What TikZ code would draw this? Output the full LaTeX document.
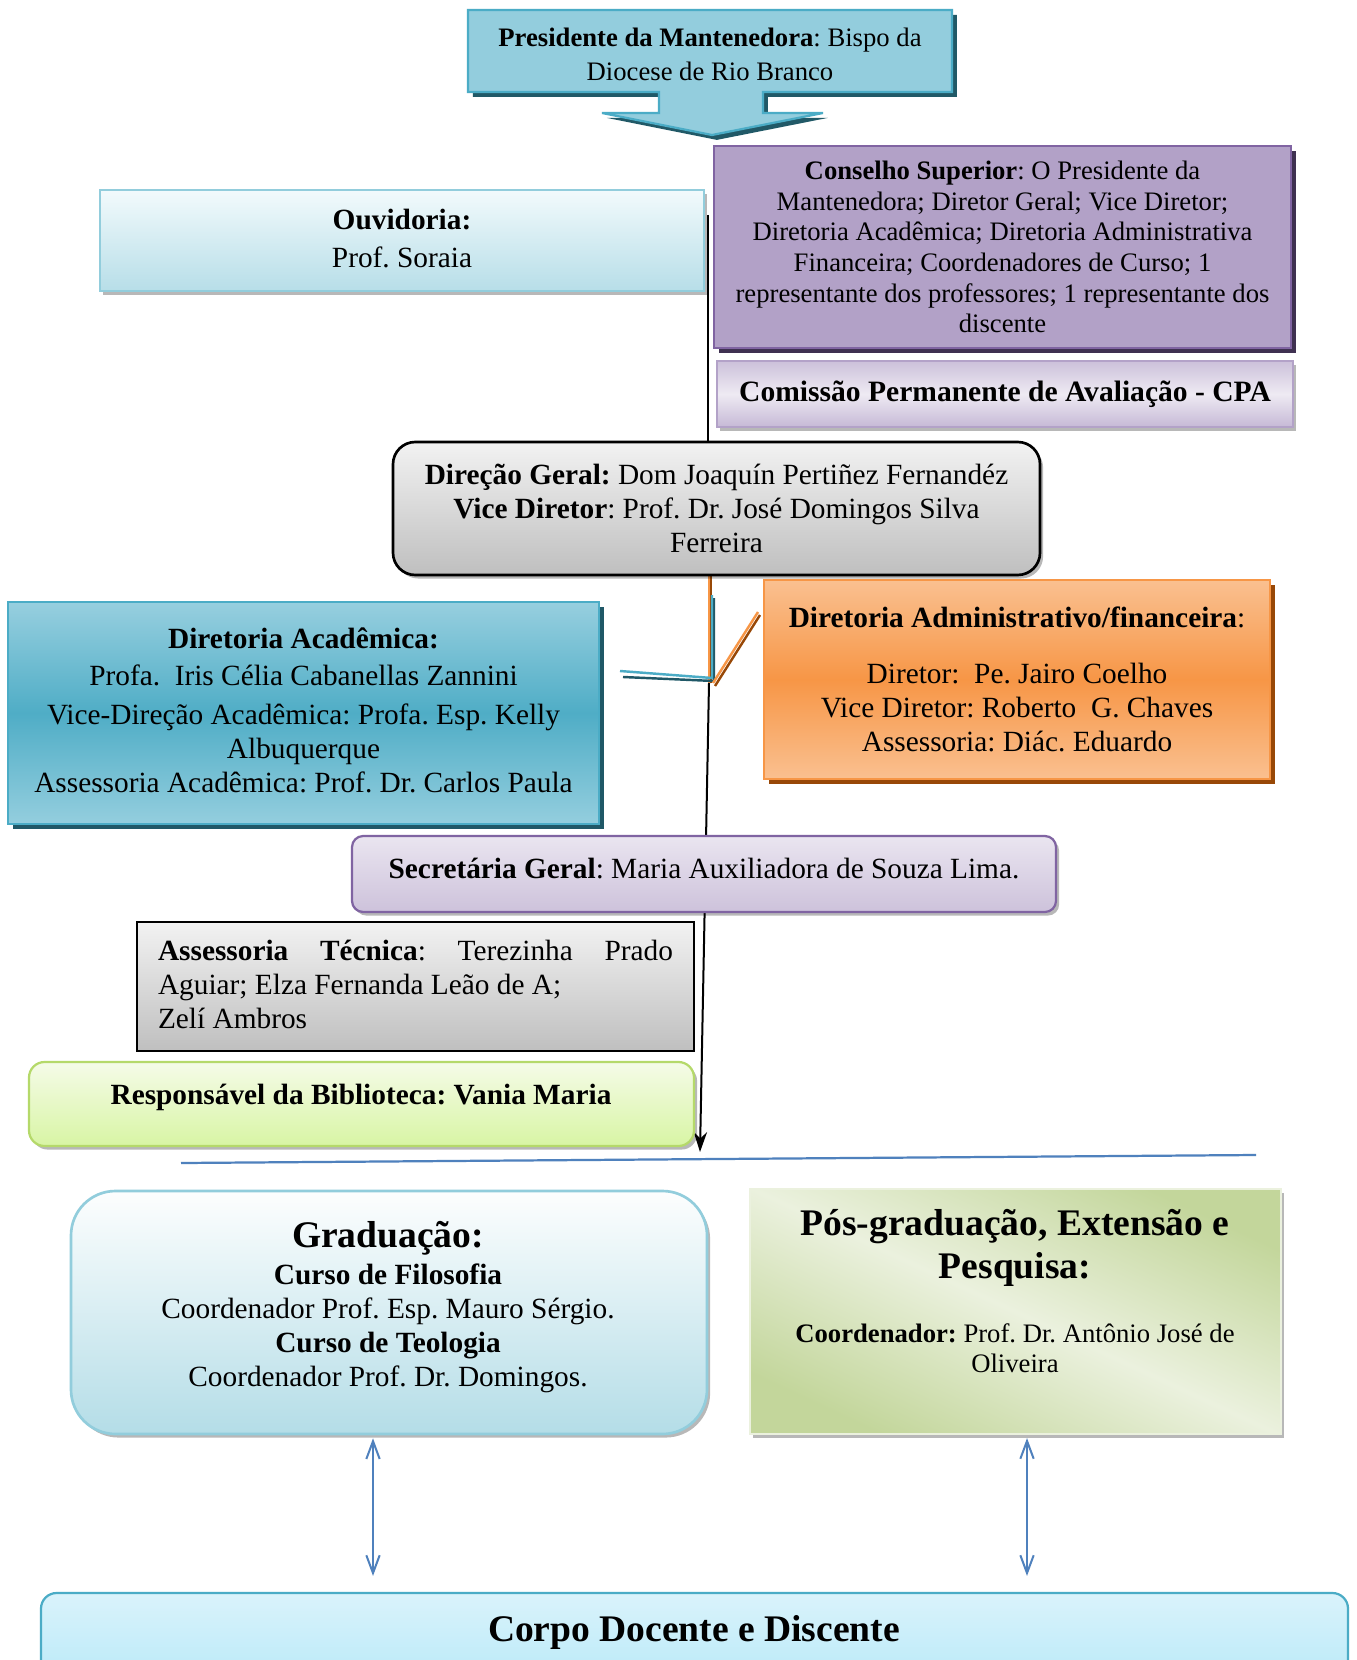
\documentclass[tikz,border=0pt]{standalone}
\usepackage{fontspec}
\setmainfont{Liberation Serif}
\usetikzlibrary{shadows,arrows.meta,calc}
\pgfdeclarelayer{bg}
\pgfsetlayers{bg,main}
\definecolor{presF}{HTML}{93CDDD}
\definecolor{presB}{HTML}{4BACC6}
\definecolor{presS}{HTML}{215967}
\definecolor{ouvT}{HTML}{F2FAFC}
\definecolor{ouvB}{HTML}{B7DEE8}
\definecolor{ouvD}{HTML}{92CDDC}
\definecolor{consF}{HTML}{B2A1C7}
\definecolor{consB}{HTML}{8064A2}
\definecolor{consS}{HTML}{3F3151}
\definecolor{cpaT}{HTML}{CCC1DA}
\definecolor{cpaM}{HTML}{EEEAF3}
\definecolor{cpaB}{HTML}{C6B9D6}
\definecolor{cpaD}{HTML}{B3A2C8}
\definecolor{dirT}{HTML}{F2F2F2}
\definecolor{dirB}{HTML}{BFBFBF}
\definecolor{acadT}{HTML}{97CFDF}
\definecolor{acadM}{HTML}{4FADC6}
\definecolor{acadB}{HTML}{94CEDE}
\definecolor{acadS}{HTML}{205867}
\definecolor{admT}{HTML}{FAC090}
\definecolor{admM}{HTML}{F79646}
\definecolor{admB}{HTML}{FAC090}
\definecolor{admS}{HTML}{984807}
\definecolor{secT}{HTML}{EAE5F0}
\definecolor{secB}{HTML}{CDC2DB}
\definecolor{bibT}{HTML}{F5FBE8}
\definecolor{bibB}{HTML}{D8F5A4}
\definecolor{bibD}{HTML}{B5D96A}
\definecolor{gradT}{HTML}{FDFEFE}
\definecolor{gradB}{HTML}{B4DDE7}
\definecolor{posL}{HTML}{C3D69B}
\definecolor{posM}{HTML}{EBF1DE}
\definecolor{corT}{HTML}{DAF3FB}
\definecolor{corB}{HTML}{B3E8F8}
\definecolor{lblue}{HTML}{4F81BD}
\tikzset{
  base/.style={font=\fontsize{13.2}{15.3}\selectfont, align=center, inner sep=0pt},
  wh/.style 2 args={minimum width=#1*0.45pt, minimum height=#2*0.45pt},
  hardshadow/.style={drop shadow={shadow xshift=2.2pt, shadow yshift=-2.2pt, fill=#1, opacity=1}},
  softshadow/.style={drop shadow={shadow xshift=1.4pt, shadow yshift=-1.6pt, fill=black, opacity=0.28}},
}
\begin{document}
\frenchspacing
\begin{tikzpicture}[x=0.45pt,y=-0.45pt]
\useasboundingbox (0,0) rectangle (1357,1660);
\clip (0,0) rectangle (1357,1660);
\begin{pgfonlayer}{bg}
\fill[white] (0,0) rectangle (1357,1660);
\end{pgfonlayer}

\coordinate (top) at (708,215);
\coordinate (j) at (709,683);
\coordinate (aend) at (700,1152);
\coordinate (blueA) at (620,671);
\coordinate (orgA) at (758,612);

% Presidente
\path[draw=presB, fill=presF, line width=1pt, hardshadow=presS]
  (468,10) -- (952,10) -- (952,92) -- (763,92) -- (763,113) -- (823,113)
  -- (712,135) -- (602,113) -- (659,113) -- (659,92) -- (468,92) -- cycle;
\node[base, font=\fontsize{12}{15.3}\selectfont] (pres) at (710,54)
  {\textbf{Presidente da Mantenedora}: Bispo da\\Diocese de Rio Branco};

% Ouvidoria
\node[wh={604}{101}, draw=ouvD, line width=1pt, top color=ouvT, bottom color=ouvB, softshadow] (ouv) at (402,240.5) {};
\node[base] (ouvt) at (402,239)
  {\textbf{Ouvidoria:}\\[1.8pt]Prof. Soraia};

% Conselho
\node[base, wh={577}{202}, draw=consB, line width=1.1pt, fill=consF, hardshadow=consS,
      font=\fontsize{12}{13.8}\selectfont] (cons) at (1002.5,247)
  {\textbf{Conselho Superior}: O Presidente da\\Mantenedora; Diretor Geral; Vice Diretor;\\Diretoria Acadêmica; Diretoria Administrativa\\Financeira; Coordenadores de Curso; 1\\representante dos professores; 1 representante dos\\discente};

% CPA
\node[base, wh={576}{66}, draw=cpaD, line width=0.8pt, top color=cpaT, bottom color=cpaB, middle color=cpaM, softshadow,
      font=\fontsize{13.3}{15.3}\selectfont\bfseries] (cpa) at (1005,394)
  {Comissão Permanente de Avaliação - CPA};

% Direção Geral
\node[base, wh={647}{133}, draw=black, line width=1.2pt, rounded corners=10pt, top color=dirT, bottom color=dirB, softshadow] (dir) at (716.5,508.5)
  {\textbf{Direção Geral:} Dom Joaquín Pertiñez Fernandéz\\\textbf{Vice Diretor}: Prof. Dr. José Domingos Silva\\Ferreira};

% Diretoria Acadêmica
\node[wh={591}{222}, draw=presB, line width=1.1pt, top color=acadT, bottom color=acadB, middle color=acadM, hardshadow=acadS] (acad) at (303.5,713) {};
\node[base] (acadt) at (303.5,710.5)
  {\textbf{Diretoria Acadêmica:}\\[1.6pt]Profa.\ \ Iris Célia Cabanellas Zannini\\[2.2pt]Vice-Direção Acadêmica: Profa. Esp. Kelly\\Albuquerque\\Assessoria Acadêmica: Prof. Dr. Carlos Paula};

% Diretoria Administrativa
\node[base, wh={506}{199}, draw=admM, line width=1.1pt, top color=admT, bottom color=admB, middle color=admM, hardshadow=admS] (adm) at (1017,679.5)
  {\textbf{Diretoria Administrativo/financeira}:\\[9.9pt]Diretor:\ \ Pe. Jairo Coelho\\Vice Diretor: Roberto\ \ G. Chaves\\Assessoria: Diác. Eduardo};

% Secretária Geral
\node[wh={704}{76}, draw=consB, line width=1pt, rounded corners=5pt, top color=secT, bottom color=secB, softshadow] (sec) at (704,874) {};
\node[base] (sect) at (704,869)
  {\textbf{Secretária Geral}: Maria Auxiliadora de Souza Lima.};

% Assessoria Técnica
\node[wh={557}{129}, draw=black, line width=1.1pt, top color=dirT, bottom color=dirB] (tec) at (415.5,986.5) {};
\node[base, text width=231.75pt, align=justify] (tect) at (415.5,984)
  {\textbf{Assessoria Técnica}: Terezinha Prado\linebreak Aguiar; Elza Fernanda Leão de A;\newline Zelí Ambros};

% Biblioteca
\node[wh={665}{84}, draw=bibD, line width=1pt, rounded corners=7pt, top color=bibT, bottom color=bibB, softshadow] (bib) at (361.5,1104) {};
\node[base, font=\fontsize{13.2}{15.3}\selectfont\bfseries] (bibt) at (361,1097)
  {Responsável da Biblioteca: Vania Maria};

% horizontal blue line
\coordinate (h1) at (181,1163);
\coordinate (h2) at (1256,1155);
\draw[lblue, line width=1pt] (h1) -- (h2);

% Graduação
\node[wh={636}{243}, draw=ouvD, line width=1.2pt, rounded corners=20pt, top color=gradT, bottom color=gradB, softshadow] (grad) at (389,1312.5) {};
\node[base] (gradt) at (388,1307)
  {{\fontsize{16.9}{19}\selectfont\textbf{Graduação:}}\\[1pt]\textbf{Curso de Filosofia}\\Coordenador Prof. Esp. Mauro Sérgio.\\\textbf{Curso de Teologia}\\Coordenador Prof. Dr. Domingos.};

% Pós-graduação
\node[wh={531}{245}, draw=posM, line width=1pt, left color=posL, right color=posL, middle color=posM, shading angle=155, softshadow] (pos) at (1015.5,1311.5) {};
\node[base, font=\fontsize{16.9}{19.3}\selectfont\bfseries] (post) at (1015,1248)
  {Pós-graduação, Extensão e\\Pesquisa:};
\node[base, font=\fontsize{12}{13.5}\selectfont] (posc) at (1015,1348)
  {\textbf{Coordenador:} Prof. Dr. Antônio José de\\Oliveira};

% Corpo Docente
\node[wh={1307}{107}, draw=presB, line width=1pt, rounded corners=7pt, top color=corT, bottom color=corB] (corpo) at (694.5,1646.5) {};
\node[base, font=\fontsize{16.9}{20}\selectfont\bfseries] (corpot) at (694,1632)
  {Corpo Docente e Discente};

% connectors (behind boxes)
\begin{pgfonlayer}{bg}
\draw[black, line width=0.9pt] (top) -- (dir.north -| top);
\draw[admS, line width=1.1pt] ([xshift=0.9pt]dir.south -| j) -- ([xshift=0.9pt]j);
\draw[admM, line width=1.1pt] (dir.south -| j) -- (709,687);
\draw[acadS, line width=1.1pt] (714,598) -- (714,681) -- (623,677);
\draw[presB, line width=1.1pt] (712,595) -- (712,678) -- (blueA);
\draw[admS, line width=1.1pt] (715,686) -- (760,615);
\draw[admM, line width=1.1pt] (713,683) -- (orgA);
\draw[black, line width=0.9pt, -{Stealth[length=9pt,width=6pt]}] (j) -- (aend);
\end{pgfonlayer}

% double arrows
\draw[lblue, line width=0.9pt, {Straight Barb[length=8pt,width=6pt]}-{Straight Barb[length=8pt,width=6pt]}]
  ($(grad.south -| 373,0)+(0,3)$) -- ($(corpo.north -| 373,0)+(0,-16)$);
\draw[lblue, line width=0.9pt, {Straight Barb[length=8pt,width=6pt]}-{Straight Barb[length=8pt,width=6pt]}]
  ($(pos.south -| 1027,0)+(0,3)$) -- ($(corpo.north -| 1027,0)+(0,-16)$);
\end{tikzpicture}
\end{document}
